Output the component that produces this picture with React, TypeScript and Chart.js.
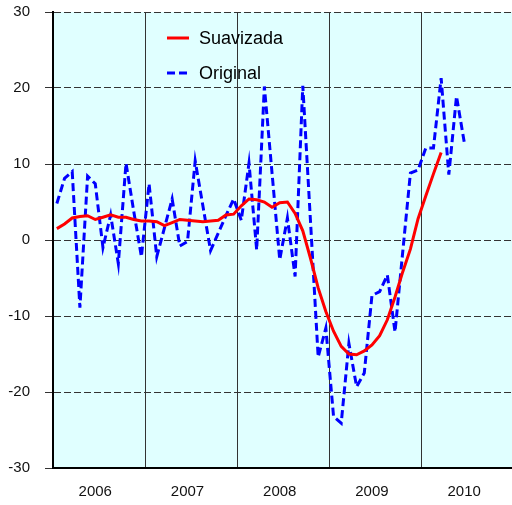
import React, { useEffect, useRef } from "react";
import { Chart, registerables } from "chart.js";

Chart.register(...registerables);

// Year labels (one tick per year, placed at mid-year)
const yearLabels = ["2006", "2007", "2008", "2009", "2010"];
const seriesNames = ["Suavizada", "Original"];
const yTicks = [-30, -20, -10, 0, 10, 20, 30];

// Monthly values, Jan 2006 onwards
const smoothed = [
  1.5, 2.1, 2.9, 3.1, 3.2, 2.7, 3.0, 3.3, 3.0, 3.0, 2.7, 2.5,
  2.5, 2.4, 1.9, 2.3, 2.7, 2.6, 2.5, 2.4, 2.5, 2.6, 3.3, 3.4,
  4.5, 5.4, 5.3, 5.0, 4.3, 4.9, 5.0, 3.5, 1.2, -2.4, -6.3, -9.4,
  -12.0, -14.0, -15.0, -15.1, -14.6, -13.8, -12.6, -10.5, -7.5, -4.2, -1.2, 2.8,
  5.8, 8.7, 11.5,
];

const original = [
  4.8, 8.1, 9.0, -8.9, 8.4, 7.4, -1.0, 3.3, -3.1, 10.1, 3.8, -2.2,
  7.4, -2.2, 1.6, 5.4, -0.8, -0.2, 10.4, 4.5, -1.4, 0.9, 3.2, 5.4,
  2.6, 10.1, -1.3, 20.2, 8.8, -2.6, 2.9, -4.8, 20.3, 2.5, -15.4, -11.6,
  -23.2, -24.1, -13.6, -19.3, -17.5, -7.3, -6.8, -4.6, -12.1, -1.6, 8.8, 9.2,
  12.1, 12.1, 21.3, 8.6, 18.9, 12.9,
];

const FONT = "'Liberation Sans', Arial, sans-serif";

export default function App() {
  const ref = useRef<HTMLCanvasElement>(null);

  useEffect(() => {
    if (!ref.current) return;
    const toPts = (arr: number[]) => arr.map((v, i) => ({ x: i + 0.5, y: v }));

    const bgPlugin = {
      id: "bg",
      beforeDraw(chart: any) {
        const { ctx, chartArea: a } = chart;
        ctx.save();
        ctx.fillStyle = "#E0FFFF";
        ctx.fillRect(a.left, a.top, a.right - a.left, a.bottom - a.top);
        ctx.restore();
      },
    };

    const legendPlugin = {
      id: "customLegend",
      afterDraw(chart: any) {
        const { ctx } = chart;
        const rows = [
          { y: 38, ds: chart.data.datasets[0] },
          { y: 73, ds: chart.data.datasets[1] },
        ];
        ctx.save();
        rows.forEach((r) => {
          ctx.beginPath();
          ctx.strokeStyle = r.ds.borderColor;
          ctx.lineWidth = 3;
          ctx.setLineDash(r.ds.borderDash || []);
          ctx.moveTo(167, r.y);
          ctx.lineTo(189, r.y);
          ctx.stroke();
          ctx.setLineDash([]);
          ctx.fillStyle = "#000";
          ctx.font = `18px ${FONT}`;
          ctx.textAlign = "left";
          ctx.textBaseline = "middle";
          ctx.fillText(r.ds.label, 199, r.y + 1);
        });
        ctx.restore();
      },
    };

    const xTickValues: number[] = [];
    yearLabels.forEach((_, k) => {
      xTickValues.push(k * 12 + 5.5);
      if (k < yearLabels.length - 1) xTickValues.push((k + 1) * 12);
    });

    const chart = new Chart(ref.current, {
      type: "line",
      data: {
        datasets: [
          {
            label: seriesNames[0],
            data: toPts(smoothed),
            borderColor: "#FF0000",
            borderWidth: 3,
            pointRadius: 0,
            tension: 0,
            fill: false,
          },
          {
            label: seriesNames[1],
            data: toPts(original),
            borderColor: "#0000FF",
            borderWidth: 3,
            borderDash: [8, 4],
            pointRadius: 0,
            tension: 0,
            fill: false,
          },
        ],
      },
      options: {
        responsive: false,
        animation: false,
        events: [],
        layout: { padding: { top: 12, right: 0, left: 0, bottom: 0 } },
        plugins: { legend: { display: false }, tooltip: { enabled: false } },
        scales: {
          x: {
            type: "linear",
            min: 0,
            max: 59.72,
            afterBuildTicks: (scale: any) => {
              scale.ticks = xTickValues.map((v) => ({ value: v }));
            },
            afterFit: (scale: any) => {
              scale.height = 37;
              scale.paddingLeft = 0;
              scale.paddingRight = 0;
            },
            ticks: {
              autoSkip: false,
              maxRotation: 0,
              padding: 15,
              color: "#111",
              font: { family: FONT, size: 15 },
              callback: (value: any) => {
                const v = Number(value);
                if (Math.abs(v % 12 - 5.5) < 0.01) return yearLabels[Math.round((v - 5.5) / 12)];
                return "";
              },
            },
            grid: {
              drawTicks: false,
              lineWidth: 1,
              color: (ctx: any) => {
                const v = ctx.tick ? ctx.tick.value : 0;
                return v % 12 === 0 ? "#333" : "rgba(0,0,0,0)";
              },
            },
            border: { display: true, color: "#000", width: 2 },
          },
          y: {
            min: -30,
            max: 30,
            afterBuildTicks: (scale: any) => {
              scale.ticks = yTicks.map((v) => ({ value: v }));
            },
            afterFit: (scale: any) => {
              scale.width = 53;
              scale.paddingTop = 0;
              scale.paddingBottom = 0;
            },
            ticks: {
              padding: 15,
              color: "#111",
              font: { family: FONT, size: 15 },
            },
            grid: {
              color: "#333",
              lineWidth: 1,
              drawTicks: true,
              tickLength: 8,
              tickColor: "#333",
              tickBorderDash: [],
            },
            border: { display: true, color: "#000", width: 2, dash: [7, 3] },
          },
        },
      },
      plugins: [bgPlugin, legendPlugin],
    } as any);

    return () => chart.destroy();
  }, []);

  return (
    <canvas
      ref={ref}
      width={512}
      height={505}
      style={{ position: "absolute", left: 0, top: 0, width: 512, height: 505, display: "block" }}
    />
  );
}
